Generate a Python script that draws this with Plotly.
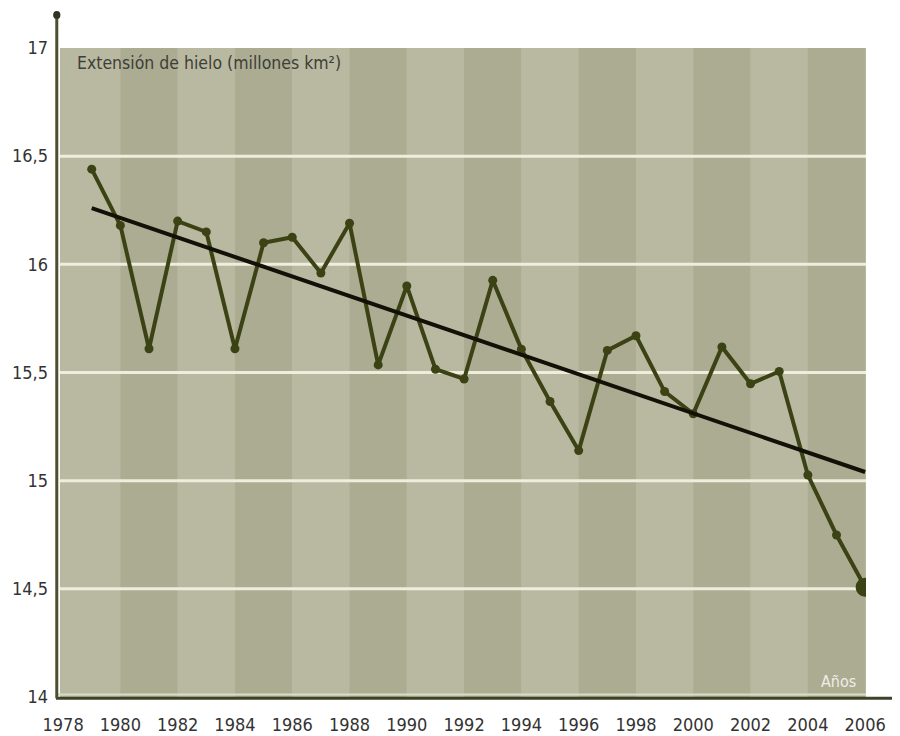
import plotly.graph_objects as go

# ---- data ----
years = list(range(1979, 2007))
extent = [16.44, 16.18, 15.61, 16.20, 16.15, 15.61, 16.10, 16.125, 15.96, 16.19,
          15.535, 15.90, 15.515, 15.47, 15.926, 15.608, 15.366, 15.139, 15.602, 15.67,
          15.412, 15.309, 15.618, 15.448, 15.505, 15.026, 14.749, 14.507]
trend_years = [1979, 2006]
trend_values = [16.26, 15.04]
y_ticks = [14, 14.5, 15, 15.5, 16, 16.5, 17]
x_ticks = list(range(1978, 2007, 2))
grid_values = [14.5, 15, 15.5, 16, 16.5]

X_RANGE = [1977.893, 2006.03]
LIGHT = "#b9b9a2"
DARK = "#acac93"
OLIVE = "#3b4314"
FONT = "DejaVu Sans Condensed, DejaVu Sans"

fig = go.Figure()

# data line with markers
fig.add_trace(go.Scatter(
    x=years, y=extent, mode="lines+markers",
    line=dict(color=OLIVE, width=4),
    marker=dict(color=OLIVE, size=9),
    hoverinfo="skip", showlegend=False,
))
# trend line
fig.add_trace(go.Scatter(
    x=trend_years, y=trend_values, mode="lines",
    line=dict(color="#111108", width=4),
    hoverinfo="skip", showlegend=False,
))
# highlighted last point
fig.add_trace(go.Scatter(
    x=[years[-1]], y=[extent[-1]], mode="markers",
    marker=dict(color=OLIVE, size=19),
    hoverinfo="skip", showlegend=False,
))

shapes = []
# alternating 2-year vertical bands
edges = list(range(1978, 2007, 2))
for i in range(len(edges) - 1):
    x0 = edges[i] if i > 0 else X_RANGE[0]
    x1 = edges[i + 1]
    shapes.append(dict(type="rect", xref="x", yref="paper", x0=x0, x1=x1, y0=0, y1=1,
                       fillcolor=LIGHT if i % 2 == 0 else DARK, line=dict(width=0), layer="below"))
# horizontal grid lines
for g in grid_values:
    shapes.append(dict(type="line", xref="paper", yref="y", x0=0, x1=1, y0=g, y1=g,
                       line=dict(color="#efeedd", width=3), layer="below"))
# bottom axis: light inner line + dark line extending to the right edge
shapes.append(dict(type="line", xref="paper", yref="paper", x0=-0.004, x1=1.0, y0=0.004, y1=0.004,
                   line=dict(color="#d9dcc2", width=2), layer="above"))
shapes.append(dict(type="line", xref="paper", yref="paper", x0=-0.005, x1=1.06, y0=-0.002, y1=-0.002,
                   line=dict(color="#3e4328", width=3), layer="above"))
# left axis line extending above the plot with a dot on top
shapes.append(dict(type="line", xref="paper", yref="paper", x0=-0.004, x1=-0.004, y0=-0.002, y1=1.051,
                   line=dict(color="#4a5030", width=3), layer="above"))
shapes.append(dict(type="circle", xref="paper", yref="paper", x0=-0.0085, x1=0.0005, y0=1.045, y1=1.057,
                   fillcolor="#2f3320", line=dict(width=0), layer="above"))

annotations = [
    dict(text="Extensión de hielo (millones km²)", xref="paper", yref="paper",
         x=0.019, y=0.977, xanchor="left", yanchor="middle", showarrow=False,
         font=dict(family=FONT, size=17.5, color="#3e3f36")),
    dict(text="Años", xref="paper", yref="paper",
         x=0.99, y=0.024, xanchor="right", yanchor="middle", showarrow=False,
         font=dict(family=FONT, size=16, color="#eeeee6")),
]

fig.update_layout(
    width=900, height=736,
    margin=dict(l=52, r=42, t=40, b=47, autoexpand=False),
    paper_bgcolor="white", plot_bgcolor=LIGHT,
    separators=",.",
    shapes=shapes, annotations=annotations,
    font=dict(family=FONT, size=18, color="#333333"),
    xaxis=dict(range=X_RANGE, tickvals=x_ticks, showgrid=False, zeroline=False,
               showline=False, ticks="", ticklabelstandoff=15, automargin=False,
               tickfont=dict(size=18, color="#333333")),
    yaxis=dict(range=[14, 17], tickvals=y_ticks, showgrid=False, zeroline=False,
               showline=False, ticks="", ticklabelstandoff=11, automargin=False,
               tickfont=dict(size=18, color="#333333")),
)

fig.write_html("out.html")
